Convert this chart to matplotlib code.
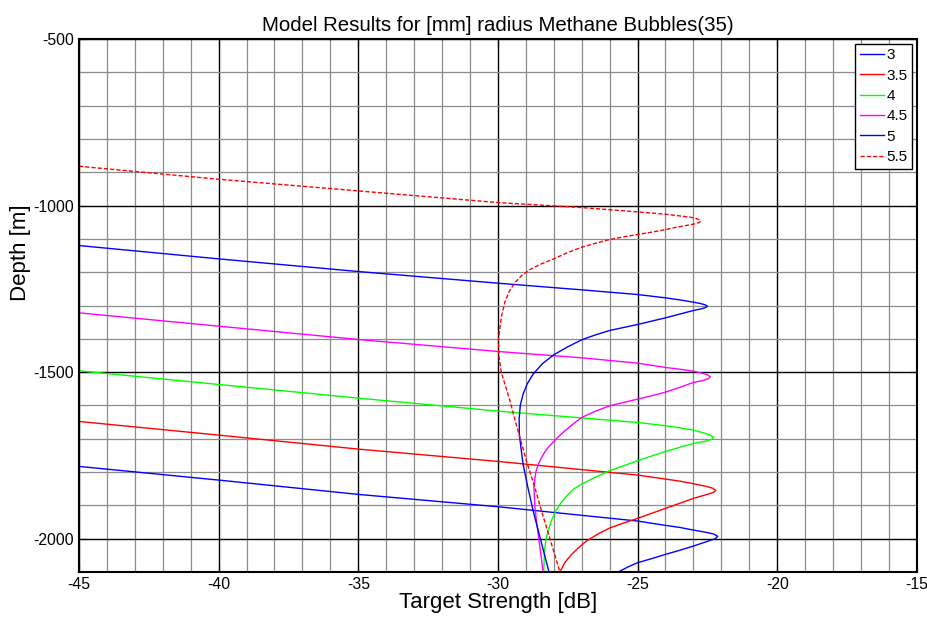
import numpy as np
import matplotlib.pyplot as plt
from matplotlib.ticker import MultipleLocator

plt.rcParams['font.family'] = ['Liberation Sans', 'DejaVu Sans']
plt.rcParams['axes.unicode_minus'] = False

# curves: target strength [dB] and depth [m]
ts_55 = [-45, -40, -35, -30, -27, -25, -24, -23.5, -23.1, -22.9, -22.78, -22.74, -22.8, -22.95, -23.2,
         -23.6, -24, -24.5, -25, -25.5, -26, -26.5, -27, -27.5, -28, -28.5, -28.85, -29.15, -29.4,
         -29.6, -29.75, -29.88, -29.98, -29.97, -29.88, -29.7, -29.57, -29.4, -29.2, -28.98, -28.7,
         -28.44, -27.78]
d_55 = [-882, -921, -956, -991, -1006, -1019, -1026, -1031, -1035, -1039, -1043, -1047, -1051, -1055, -1059,
        -1065, -1072, -1080, -1087, -1094, -1102, -1113, -1125, -1141, -1160, -1177, -1192, -1210, -1232,
        -1258, -1290, -1335, -1400, -1450, -1500, -1550, -1586, -1640, -1700, -1766, -1840,
        -1916, -2100]

ts_5 = [-45, -40, -35, -30, -27, -25, -24, -23.5, -23, -22.75, -22.58, -22.5, -22.56, -22.72, -23,
        -23.5, -24, -24.5, -25, -25.5, -26, -26.5, -27, -27.5, -28, -28.4, -28.74, -28.95, -29.1,
        -29.2, -29.24, -29.23, -29.17, -29.1, -28.93, -28.74, -28.17]
d_5 = [-1120, -1160, -1198, -1233, -1253, -1267, -1277, -1283, -1290, -1294, -1298, -1302, -1306, -1310, -1315,
       -1326, -1337, -1347, -1357, -1366, -1375, -1388, -1403, -1424, -1448, -1474, -1506, -1535, -1566,
       -1600, -1640, -1690, -1730, -1776, -1845, -1916, -2100]

ts_45 = [-45, -40, -35, -30, -27, -25, -24, -23.5, -23, -22.7, -22.5, -22.4, -22.45, -22.65, -23,
         -23.5, -24, -24.5, -25, -25.5, -26, -26.5, -27, -27.3, -27.6, -27.8, -28.0, -28.18, -28.33,
         -28.45, -28.55, -28.63, -28.68, -28.71, -28.68, -28.62, -28.38]
d_45 = [-1322, -1362, -1402, -1438, -1457, -1473, -1486, -1491, -1497, -1503, -1508, -1514, -1519, -1525, -1531,
        -1546, -1560, -1571, -1581, -1591, -1601, -1617, -1636, -1655, -1676, -1691, -1708, -1724, -1741,
        -1758, -1776, -1796, -1820, -1847, -1900, -1947, -2100]

ts_4 = [-45, -40, -35, -30, -25, -24, -23.5, -23, -22.65, -22.4, -22.27, -22.35, -22.6, -23,
        -23.5, -24, -24.5, -25, -25.5, -26, -26.5, -27, -27.3, -27.54, -27.75, -27.93, -28.07, -28.2,
        -28.28, -28.33, -28.36]
d_4 = [-1496, -1537, -1578, -1617, -1651, -1661, -1667, -1674, -1682, -1689, -1696, -1702, -1708, -1714,
       -1726, -1738, -1752, -1766, -1781, -1796, -1815, -1836, -1852, -1872, -1893, -1917, -1943, -1975,
       -2003, -2035, -2100]

ts_35 = [-45, -40, -35, -30, -25, -24, -23.5, -23, -22.6, -22.32, -22.2, -22.28, -22.55, -23,
         -23.5, -24, -24.5, -25, -25.5, -26, -26.4, -26.83, -27.1, -27.36, -27.6, -27.78]
d_35 = [-1648, -1689, -1731, -1768, -1809, -1821, -1827, -1835, -1842, -1848, -1855, -1861, -1868, -1879,
        -1894, -1909, -1924, -1939, -1953, -1968, -1985, -2007, -2026, -2047, -2071, -2100]

ts_3 = [-45, -40, -35, -30, -25, -24, -23.5, -23, -22.6, -22.27, -22.13, -22.22, -22.5, -23,
        -23.5, -24, -24.5, -25, -25.35, -25.69]
d_3 = [-1783, -1824, -1867, -1904, -1947, -1960, -1966, -1974, -1980, -1986, -1993, -2000, -2008, -2022,
       -2035, -2047, -2060, -2072, -2085, -2100]

radii = ['3', '3.5', '4', '4.5', '5', '5.5']

fig = plt.figure(figsize=(9.28, 6.17), dpi=100)
ax = fig.add_axes([0.0851, 0.0729, 0.9029, 0.8639])

ax.plot(ts_3, d_3, color='#0000ff', lw=1, label=radii[0])
ax.plot(ts_35, d_35, color='#ff0000', lw=1, label=radii[1])
ax.plot(ts_4, d_4, color='#00ff00', lw=1, label=radii[2])
ax.plot(ts_45, d_45, color='#ff00ff', lw=1, label=radii[3])
ax.plot(ts_5, d_5, color='#0000ff', lw=1, label=radii[4])
ax.plot(ts_55, d_55, color='#ff0000', lw=1, ls=(0, (3, 1.5)), label=radii[5])

ax.set_xlim(-45, -15)
ax.set_ylim(-2100, -500)
ax.xaxis.set_major_locator(MultipleLocator(5))
ax.yaxis.set_major_locator(MultipleLocator(500))
ax.xaxis.set_minor_locator(MultipleLocator(1))
ax.yaxis.set_minor_locator(MultipleLocator(100))
ax.grid(which='minor', color='0.55', lw=0.9)
ax.grid(which='major', color='black', lw=1)
ax.set_axisbelow(True)
ax.tick_params(which='both', direction='in', labelsize=11.3)
ax.tick_params(which='minor', length=0)
ax.tick_params(which='major', length=5, top=True, right=True)
for s in ax.spines.values():
    s.set_linewidth(1.5)

ax.set_title('Model Results for [mm] radius Methane Bubbles(35)', fontsize=14.7, pad=6)
ax.set_xlabel('Target Strength [dB]', fontsize=16, labelpad=0)
ax.set_ylabel('Depth [m]', fontsize=16)
ax.yaxis.set_label_coords(-0.057, 0.60)

leg = ax.legend(loc='upper right', fontsize=11, fancybox=False, framealpha=1,
                edgecolor='black', borderaxespad=0.3, handlelength=1.6,
                handletextpad=0.15, labelspacing=0.42, borderpad=0.3)
leg.get_frame().set_linewidth(1)

plt.savefig('out.png', dpi=100)
